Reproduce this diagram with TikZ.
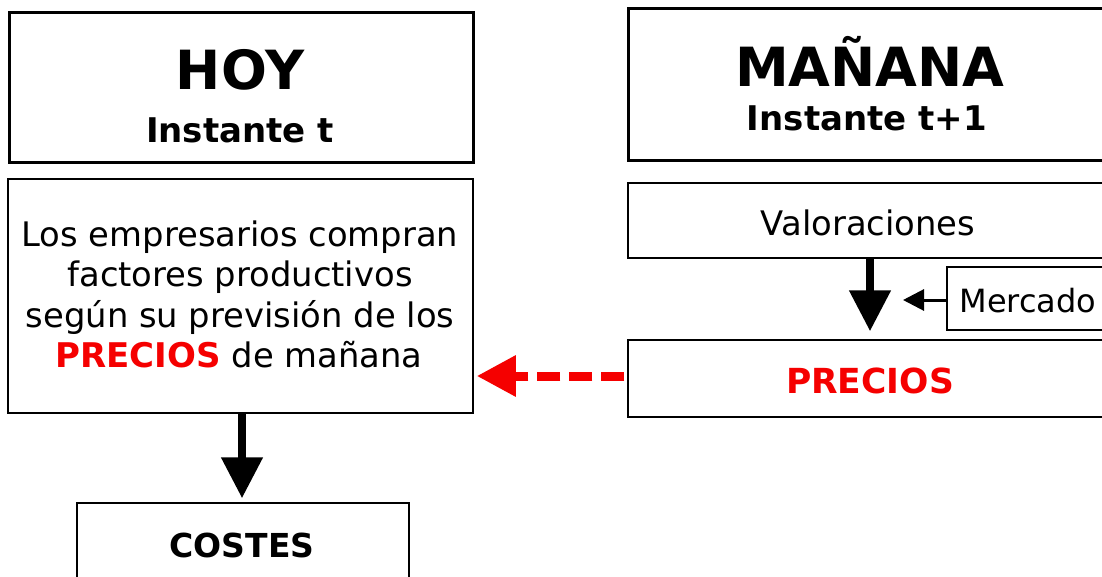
\documentclass[tikz,border=0pt]{standalone}
\usepackage{fontspec}
\setmainfont{DejaVu Sans}
\usetikzlibrary{arrows.meta}
\definecolor{pred}{RGB}{245,0,0}
\tikzset{
  thickbox/.style={draw, line width=3pt, rectangle, inner sep=0pt},
  thinbox/.style={draw, line width=1.5pt, rectangle, inner sep=0pt},
  txt/.style={anchor=base, inner sep=0pt},
  bigtitle/.style={txt, font=\fontsize{54}{60}\selectfont\bfseries},
  subtitle/.style={txt, font=\fontsize{34}{40}\selectfont\bfseries},
  body/.style={txt, font=\fontsize{33.8}{40}\selectfont},
  smallbody/.style={txt, font=\fontsize{32}{40}\selectfont},
  bodybold/.style={txt, font=\fontsize{33}{40}\selectfont\bfseries},
  bigarrow/.style={line width=8pt, -{Triangle[length=41pt,width=40pt]}},
  smallarrow/.style={line width=3pt, -{Triangle[length=21pt,width=21pt]}},
  redarrow/.style={pred, line width=9pt, dash pattern=on 23pt off 9pt, dash phase=29pt,
                   -{Triangle[length=39pt,width=39pt]}}
}
\begin{document}
\begin{tikzpicture}[x=1pt,y=-1pt]
\useasboundingbox (0,0) rectangle (1102,577);
\clip (0,0) rectangle (1102,577);
\fill[white] (0,0) rectangle (1102,577);

% left column
\node[thickbox, minimum width=464pt, minimum height=150pt] (hoy) at (241,88) {};
\node[bigtitle] (hoyt) at (240,90) {HOY};
\node[subtitle] (inst) at (240,143) {Instante t};

\node[thinbox, minimum width=465pt, minimum height=234pt] (emp) at (240.5,296) {};
\node[body] (l1) at (240,247) {Los empresarios compran};
\node[body] (l2) at (240,287) {factores productivos};
\node[body] (l3) at (240,327) {según su previsión de los};
\node[body] (l4) at (239,367) {{\fontsize{34}{40}\selectfont\bfseries\color{pred}PRECIOS} de mañana};

\node[thinbox, minimum width=332pt, minimum height=117pt] (cost) at (243,561.5) {};
\node[bodybold] (costt) at (242,557) {COSTES};

% right column
\node[thickbox, minimum width=484pt, minimum height=152pt] (man) at (870,85) {};
\node[bigtitle] (mant) at (870,87) {MAÑANA};
\node[subtitle] (inst1) at (867,131) {Instante t+1};

\node[thinbox, minimum width=484pt, minimum height=75pt] (val) at (870,220.5) {};
\node[body] (valt) at (868,236) {Valoraciones};

\node[thinbox, minimum width=163pt, minimum height=63pt] (merc) at (1028.5,298.5) {};
\node[smallbody] (merct) at (1028,312) {Mercado};

\node[thinbox, minimum width=484pt, minimum height=77pt] (prec) at (870,378.5) {};
\node[txt, font=\fontsize{34.5}{40}\selectfont\bfseries, text=pred] (prect) at (870,393) {PRECIOS};

\coordinate (mtip) at (903,300);

% connectors
\draw[bigarrow] (emp.south -| 242,0) -- ([yshift=4pt]cost.north -| 242,0);
\draw[bigarrow] (val.south) -- ([yshift=8pt]prec.north);
\draw[smallarrow] (merc.west |- mtip) -- (mtip);
\draw[redarrow] (prec.west |- 0,376) -- ([xshift=3pt]emp.east |- 0,376);
\end{tikzpicture}
\end{document}
